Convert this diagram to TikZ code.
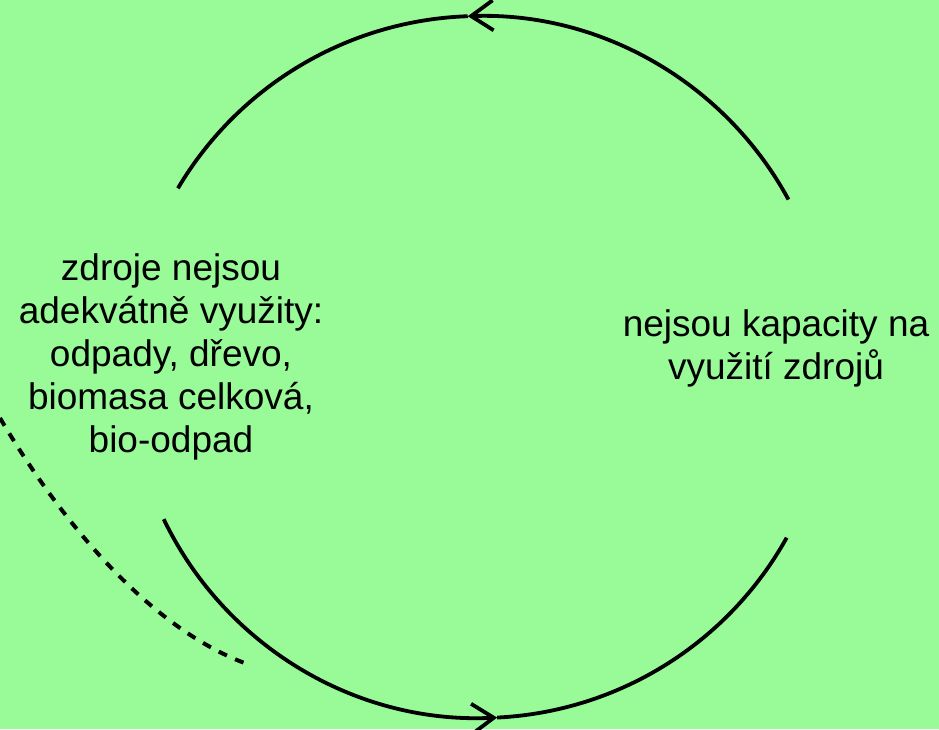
\documentclass[tikz,border=0pt]{standalone}
\usepackage{fontspec}
\setmainfont{Liberation Sans}
\usetikzlibrary{arrows.meta}
\definecolor{bggreen}{RGB}{152,251,152}
\tikzset{
  cyc/.style={line width=3.8pt, black},
  cyctip/.style={-{Straight Barb[length=22pt,width=30pt,line width=3.8pt]}},
  lbl/.style={align=center, font=\fontsize{37}{43}\selectfont, inner sep=0pt},
  dashline/.style={line width=4pt, dash pattern=on 9pt off 9pt}
}
\begin{document}
\begin{tikzpicture}[x=1pt,y=1pt]
\useasboundingbox (0,0) rectangle (939,729);
\fill[bggreen] (0,0) rectangle (939,729);
\coordinate (c) at (480,362);
% top arc (right to left)
\draw[cyc,cyctip] (c) ++(28.5:351) arc[start angle=28.5, end angle=92, radius=351] coordinate (ttop);
\draw[cyc] (ttop) arc[start angle=92, end angle=149.4, radius=351];
% bottom arc (left to right)
\draw[cyc,cyctip] (c) ++(205.7:351) arc[start angle=205.7, end angle=272.8, radius=351] coordinate (tbot);
\draw[cyc] (tbot) arc[start angle=272.8, end angle=330.9, radius=351];
% texts
\node[lbl] (left) at (171,372) {zdroje nejsou\\adekvátně využity:\\odpady, dřevo,\\biomasa celková,\\bio-odpad};
\node[lbl] (right) at (776,381) {nejsou kapacity na\\využití zdrojů};
% dashed curve
\coordinate (d1) at (0,311);
\coordinate (d2) at (250,64);
\draw[dashline] (d1) .. controls (60,209) and (150,99) .. (d2);
\end{tikzpicture}
\end{document}
